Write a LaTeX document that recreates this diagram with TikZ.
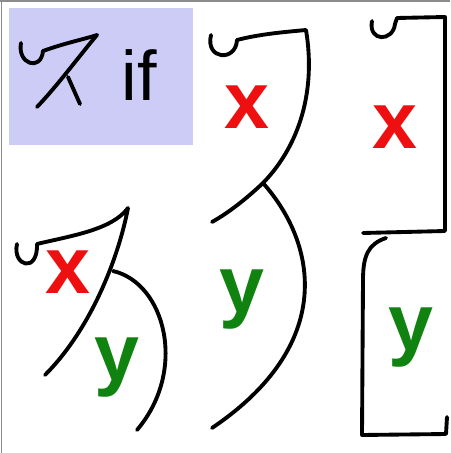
\documentclass[tikz,border=0pt]{standalone}
\usepackage{fontspec}
\setsansfont{Liberation Sans}
\usepackage{xcolor}
\usepackage{tikz}
\definecolor{boxlav}{RGB}{204,204,246}
\definecolor{varred}{RGB}{238,16,16}
\definecolor{vargreen}{RGB}{16,130,16}
\tikzset{
  glyphline/.style={draw=black, line width=2.2pt, line cap=round, line join=round},
  framegray/.style={draw=black!45, line width=0.8pt},
  redvar/.style={anchor=base, inner sep=0pt, text=varred, font=\sffamily\bfseries\fontsize{46}{50}\selectfont},
  greenvar/.style={anchor=base, inner sep=0pt, text=vargreen, font=\sffamily\bfseries\fontsize{46}{50}\selectfont},
  keyword/.style={anchor=base, inner sep=0pt, font=\sffamily\fontsize{40}{44}\selectfont}
}
\begin{document}
\begin{tikzpicture}[x=0.02cm, y=-0.02cm]
    \useasboundingbox (0,0) rectangle (450,453);
    % frame edges
    \draw[framegray] (0,1) -- (450,1);
    \draw[framegray] (1.5,0) -- (1.5,453);
    % legend box
    \fill[boxlav] (9,8) rectangle (193,145);
    \draw[glyphline] (21,43) .. controls (17,64) and (41,72) .. (43,51)
      .. controls (65,43) and (85,39) .. (97,35);
    \draw[glyphline] (97,35) .. controls (80,55) and (58,85) .. (37,107);
    \draw[glyphline] (68,77) -- (80,104);
    \node[keyword] (kwif) at (139,100) {if};
    % left figure
    \draw[glyphline] (17,244) .. controls (12,266) and (38,274) .. (37,244)
      .. controls (70,236) and (112,230) .. (128,208)
      .. controls (118,260) and (90,330) .. (45,375);
    \draw[glyphline] (113,271) .. controls (165,283) and (188,370) .. (137,430);
    \node[redvar] (leftx) at (68,293) {x};
    \node[greenvar] (lefty) at (117,380) {y};
    % middle figure
    \draw[glyphline] (211,35) .. controls (205,60) and (236,62) .. (237,40)
      .. controls (260,34) and (285,32) .. (306,30)
      .. controls (316,90) and (300,145) .. (263,183)
      .. controls (245,200) and (228,213) .. (212,222);
    \draw[glyphline] (263,183) .. controls (318,245) and (335,345) .. (212,428);
    \node[redvar] (midx) at (247,128) {x};
    \node[greenvar] (midy) at (242,312) {y};
    % right figure
    \draw[glyphline] (372,21) .. controls (368,42) and (393,42) .. (395,24)
      -- (397,18) -- (445,17) -- (445,231) -- (363,233);
    \draw[glyphline] (386,238) .. controls (368,244) and (363,256) .. (363,280)
      -- (362,435) -- (446,434) -- (447,417);
    \node[redvar] (rightx) at (395,148) {x};
    \node[greenvar] (righty) at (411,350) {y};
\end{tikzpicture}
\end{document}
